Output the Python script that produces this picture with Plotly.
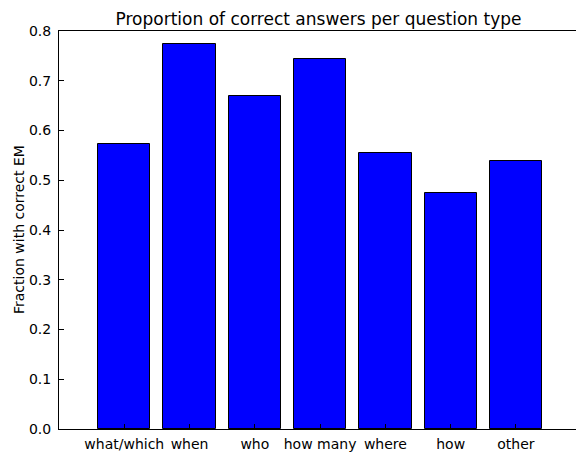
import plotly.graph_objects as go

# Question types and the fraction of answers with an exact match
question_types = ["what/which", "when", "who", "how many", "where", "how", "other"]
fraction_correct = [0.572, 0.774, 0.670, 0.743, 0.555, 0.475, 0.539]
y_ticks = [0.0, 0.1, 0.2, 0.3, 0.4, 0.5, 0.6, 0.7, 0.8]

positions = list(range(len(question_types)))
font_family = "DejaVu Sans"

fig = go.Figure()
fig.add_trace(go.Bar(
    x=positions,
    y=fraction_correct,
    width=0.8,
    marker=dict(color="#0000ff", line=dict(color="black", width=1)),
    showlegend=False,
))

fig.update_layout(
    width=576,
    height=452,
    margin=dict(l=59, r=0, t=31, b=19),
    paper_bgcolor="white",
    plot_bgcolor="white",
    font=dict(family=font_family, size=14, color="black"),
    title=dict(
        text="Proportion of correct answers per question type",
        font=dict(family=font_family, size=17, color="black"),
        x=(318.5) / 576,
        xanchor="center",
        xref="container",
        yref="container",
        y=1 - 19 / 452,
        yanchor="middle",
    ),
    bargap=0,
    xaxis=dict(
        range=[-1.0, 6.92],
        tickvals=positions,
        ticktext=question_types,
        ticks="inside",
        ticklen=5,
        tickcolor="black",
        showline=True,
        linecolor="black",
        linewidth=1,
        mirror=True,
        showgrid=False,
        zeroline=False,
        ticklabelstandoff=2,
    ),
    yaxis=dict(
        range=[0, 0.8],
        tickvals=y_ticks,
        tickformat=".1f",
        ticks="inside",
        ticklen=5,
        tickcolor="black",
        showline=True,
        linecolor="black",
        linewidth=1,
        showgrid=False,
        zeroline=False,
        ticklabelstandoff=4,
    ),
    yaxis2=dict(
        range=[0, 0.8],
        tickvals=y_ticks,
        overlaying="y",
        side="right",
        anchor="x",
        ticks="inside",
        ticklen=5,
        tickcolor="black",
        showticklabels=False,
        showline=False,
        showgrid=False,
        zeroline=False,
    ),
    annotations=[dict(
        text="Fraction with correct EM",
        textangle=-90,
        xref="paper",
        yref="paper",
        x=(19 - 59) / 517,
        y=0.5,
        xanchor="center",
        yanchor="middle",
        showarrow=False,
        font=dict(family=font_family, size=14, color="black"),
    )],
)

fig.write_html("out.html")
